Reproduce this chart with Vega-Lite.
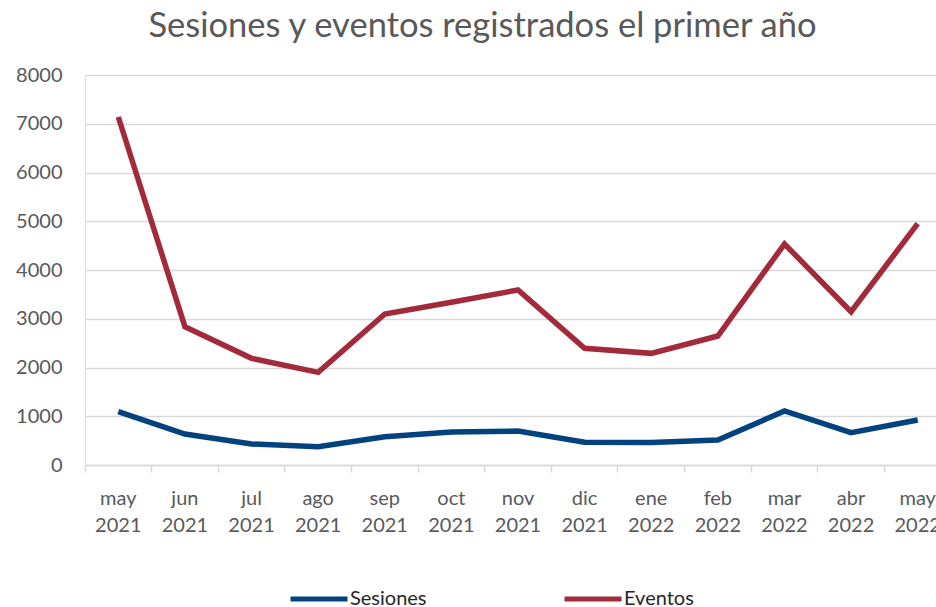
{
  "$schema": "https://vega.github.io/schema/vega-lite/v6.json",
  "autosize": {"type": "none"},
  "width": 851,
  "height": 390,
  "padding": {"left": 85, "top": 75, "right": 0, "bottom": 142},
  "background": "white",
  "title": {
    "text": "Sesiones y eventos registrados el primer año",
    "font": "Lato",
    "fontSize": 34.5,
    "fontWeight": "normal",
    "color": "#595959",
    "anchor": "middle",
    "baseline": "alphabetic",
    "dx": -28,
    "dy": 6,
    "offset": 0
  },
  "data": {
    "values": [
      {"mes": "may 2021", "serie": "Sesiones", "valor": 1094},
      {"mes": "jun 2021", "serie": "Sesiones", "valor": 636},
      {"mes": "jul 2021", "serie": "Sesiones", "valor": 431},
      {"mes": "ago 2021", "serie": "Sesiones", "valor": 376},
      {"mes": "sep 2021", "serie": "Sesiones", "valor": 581},
      {"mes": "oct 2021", "serie": "Sesiones", "valor": 677},
      {"mes": "nov 2021", "serie": "Sesiones", "valor": 697},
      {"mes": "dic 2021", "serie": "Sesiones", "valor": 465},
      {"mes": "ene 2022", "serie": "Sesiones", "valor": 462},
      {"mes": "feb 2022", "serie": "Sesiones", "valor": 513},
      {"mes": "mar 2022", "serie": "Sesiones", "valor": 1108},
      {"mes": "abr 2022", "serie": "Sesiones", "valor": 663},
      {"mes": "may 2022", "serie": "Sesiones", "valor": 923},
      {"mes": "may 2021", "serie": "Eventos", "valor": 7138},
      {"mes": "jun 2021", "serie": "Eventos", "valor": 2837},
      {"mes": "jul 2021", "serie": "Eventos", "valor": 2188},
      {"mes": "ago 2021", "serie": "Eventos", "valor": 1901},
      {"mes": "sep 2021", "serie": "Eventos", "valor": 3097},
      {"mes": "oct 2021", "serie": "Eventos", "valor": 3340},
      {"mes": "nov 2021", "serie": "Eventos", "valor": 3590},
      {"mes": "dic 2021", "serie": "Eventos", "valor": 2393},
      {"mes": "ene 2022", "serie": "Eventos", "valor": 2290},
      {"mes": "feb 2022", "serie": "Eventos", "valor": 2646},
      {"mes": "mar 2022", "serie": "Eventos", "valor": 4533},
      {"mes": "abr 2022", "serie": "Eventos", "valor": 3145},
      {"mes": "may 2022", "serie": "Eventos", "valor": 4950}
    ]
  },
  "mark": {"type": "line", "strokeWidth": 5.5, "strokeCap": "butt", "strokeJoin": "miter"},
  "encoding": {
    "x": {
      "field": "mes",
      "type": "ordinal",
      "sort": null,
      "scale": {"type": "band", "range": [0, 866], "paddingInner": 0, "paddingOuter": 0},
      "axis": {
        "title": null,
        "labelAngle": 0,
        "labelExpr": "split(datum.label, ' ')",
        "labelFont": "Lato",
        "labelFontSize": 20,
        "labelColor": "#595959",
        "labelLineHeight": 27,
        "labelPadding": 16,
        "labelOverlap": false,
        "bandPosition": 0,
        "tickSize": 7,
        "tickColor": "#D9D9D9",
        "tickWidth": 1.5,
        "domainColor": "#D9D9D9",
        "domainWidth": 1.5,
        "grid": false
      }
    },
    "y": {
      "field": "valor",
      "type": "quantitative",
      "scale": {"domain": [0, 8000]},
      "axis": {
        "title": null,
        "values": [0, 1000, 2000, 3000, 4000, 5000, 6000, 7000, 8000],
        "format": "d",
        "labelFont": "Lato",
        "labelFontSize": 20,
        "labelColor": "#595959",
        "labelPadding": 23,
        "ticks": false,
        "domain": false,
        "grid": true,
        "gridColor": "#D9D9D9",
        "gridWidth": 1.5
      }
    },
    "color": {
      "field": "serie",
      "type": "nominal",
      "sort": ["Sesiones", "Eventos"],
      "scale": {"domain": ["Sesiones", "Eventos"], "range": ["#02427F", "#A22A3A"]},
      "legend": {
        "title": null,
        "orient": "none",
        "legendX": 203,
        "legendY": 493,
        "direction": "horizontal",
        "symbolType": "stroke",
        "symbolSize": 3249,
        "symbolStrokeWidth": 5,
        "labelFont": "Lato",
        "labelFontSize": 20,
        "labelColor": "#262626",
        "labelOffset": 0,
        "columnPadding": 127
      }
    }
  }
}
